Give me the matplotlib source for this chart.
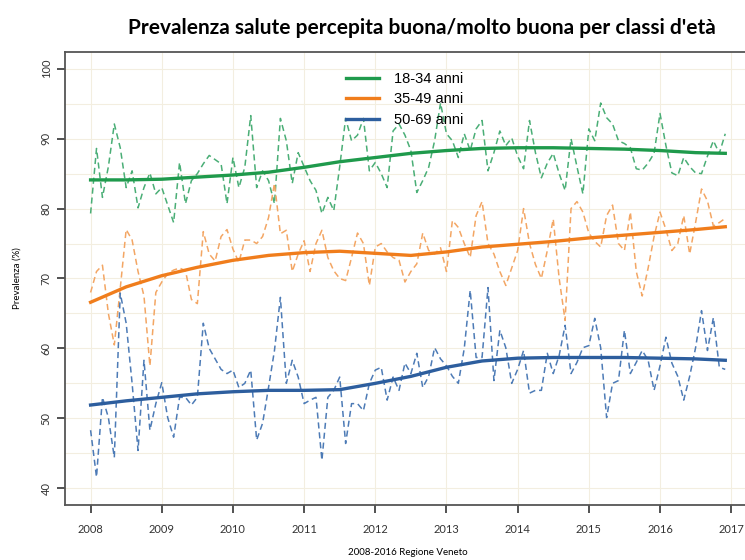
import numpy as np
from matplotlib import pyplot as plt

# valori mensili 2008-2016 (stimati dal grafico)
eta_18_34 = [79.3, 88.6, 81.6, 86.0, 92.1, 88.7, 83.0, 85.4, 80.1, 83.0, 85.1, 82.1,
             83.0, 80.5, 78.0, 86.6, 80.7, 84.0, 85.0, 86.4, 87.6, 87.0, 86.4, 80.7,
             87.3, 83.0, 85.9, 93.3, 83.0, 85.4, 84.0, 80.7, 92.9, 89.7, 83.6, 88.0,
             86.0, 84.0, 82.6, 79.3, 81.6, 79.7, 86.0, 92.9, 89.7, 90.5, 92.9, 85.4,
             86.6, 85.0, 83.0, 91.1, 92.1, 90.5, 88.3, 82.3, 84.0, 85.9, 89.7, 95.1,
             90.7, 89.7, 87.3, 90.7, 88.3, 91.4, 92.6, 85.4, 88.0, 91.1, 89.0, 90.1,
             87.5, 85.7, 92.6, 88.0, 84.4, 86.5, 87.9, 85.0, 82.6, 90.0, 86.0, 82.1,
             91.4, 89.7, 95.1, 93.0, 92.1, 89.7, 89.3, 88.7, 85.7, 85.5, 86.5, 87.9,
             93.6, 89.0, 85.1, 84.7, 87.3, 86.0, 85.1, 85.0, 87.5, 89.7, 87.9, 90.7]

eta_35_49 = [68.0, 71.0, 71.9, 65.0, 60.5, 68.6, 77.0, 75.5, 71.0, 67.5, 57.5, 68.0,
             69.5, 70.7, 71.2, 71.5, 71.1, 67.0, 66.4, 76.7, 73.5, 72.5, 76.0, 77.0,
             74.2, 72.3, 75.5, 75.5, 75.0, 76.0, 78.7, 83.6, 76.4, 76.9, 71.0, 73.5,
             75.4, 71.0, 75.0, 76.9, 73.0, 71.1, 70.0, 69.7, 73.0, 76.5, 75.0, 69.0,
             74.5, 75.0, 73.8, 73.0, 72.6, 69.5, 71.0, 72.1, 76.5, 74.0, 73.5, 74.4,
             71.0, 78.3, 77.3, 75.0, 73.0, 79.0, 81.0, 75.0, 73.5, 71.0, 69.0, 71.5,
             74.0, 80.0, 75.0, 72.0, 70.0, 74.0, 78.5, 70.0, 64.0, 80.0, 81.0, 79.5,
             76.5, 75.3, 74.5, 79.0, 80.5, 75.0, 74.0, 79.5, 71.0, 67.5, 71.5, 76.0,
             79.5, 77.0, 74.0, 75.0, 79.0, 73.5, 78.0, 82.8, 81.1, 77.5, 78.0, 78.6]

eta_50_69 = [48.3, 41.6, 53.0, 50.1, 44.4, 67.9, 63.6, 55.0, 45.4, 58.3, 48.3, 52.1,
             55.1, 50.1, 47.3, 53.0, 53.0, 51.9, 53.0, 63.6, 60.0, 58.5, 57.0, 56.4,
             56.9, 54.4, 55.0, 56.9, 46.9, 49.3, 54.4, 59.7, 67.3, 55.0, 58.3, 55.9,
             52.1, 52.6, 53.0, 44.0, 53.0, 54.0, 55.9, 46.4, 52.1, 52.1, 51.1, 55.0,
             56.9, 57.3, 52.6, 55.9, 54.0, 57.9, 56.4, 59.3, 54.4, 56.0, 60.1, 58.5,
             57.5, 56.0, 55.0, 60.0, 68.3, 58.7, 58.7, 68.7, 55.4, 62.6, 60.1, 55.0,
             57.0, 59.7, 53.6, 54.0, 54.0, 59.3, 56.4, 59.0, 63.3, 56.4, 58.0, 60.1,
             60.4, 64.3, 60.1, 50.1, 55.0, 55.4, 62.6, 56.4, 58.0, 59.7, 58.3, 54.0,
             57.5, 61.6, 57.9, 56.0, 52.6, 56.0, 60.1, 65.4, 59.7, 64.4, 57.3, 57.0]

# curve di tendenza (ogni 6 mesi)
anni_trend = [2008, 2008.5, 2009, 2009.5, 2010, 2010.5, 2011, 2011.5, 2012, 2012.5,
              2013, 2013.5, 2014, 2014.5, 2015, 2015.5, 2016, 2016.5, 2016.917]
trend_18_34 = [84.1, 84.1, 84.2, 84.5, 84.8, 85.2, 85.9, 86.7, 87.3, 87.9,
               88.3, 88.6, 88.7, 88.7, 88.6, 88.5, 88.3, 88.0, 87.9]
trend_35_49 = [66.6, 68.8, 70.4, 71.6, 72.6, 73.3, 73.7, 73.9, 73.6, 73.3,
               73.8, 74.5, 74.9, 75.3, 75.8, 76.2, 76.6, 77.0, 77.4]
trend_50_69 = [51.9, 52.5, 53.0, 53.5, 53.8, 54.0, 54.0, 54.1, 55.0, 56.0,
               57.3, 58.2, 58.6, 58.7, 58.7, 58.7, 58.6, 58.5, 58.3]

etichette = ["18-34 anni", "35-49 anni", "50-69 anni"]
colori = ["#1f9a4c", "#f07d1c", "#2d5e9e"]
colori_tratt = ["#4aae76", "#f3a664", "#4d7bb6"]

mesi = 2008 + np.arange(len(eta_18_34)) / 12

fig = plt.figure(figsize=(7.45, 5.6), dpi=100)
ax = fig.add_axes([0.0872, 0.0982, 0.921, 0.809])

serie = [eta_18_34, eta_35_49, eta_50_69]
trend = [trend_18_34, trend_35_49, trend_50_69]
for i in range(3):
    ax.plot(mesi, serie[i], color=colori_tratt[i], lw=1.1, dashes=(4, 2.5))
for i in range(3):
    ax.plot(anni_trend, trend[i], color=colori[i], lw=2.4, label=etichette[i])

ax.set_xlim(2007.64, 2017.28)
ax.set_ylim(37.6, 102.4)
ax.set_xticks(range(2008, 2018))
ax.set_yticks(range(40, 101, 10))
ax.set_yticks(range(40, 101, 5), minor=True)
ax.tick_params(axis="y", which="minor", length=0)
ax.grid(True, which="both", color="#f3eee0", lw=0.8)
ax.set_axisbelow(True)

for s in ax.spines.values():
    s.set_color("#555555")
    s.set_linewidth(1.3)

ax.tick_params(axis="both", which="major", length=6, width=1.2, color="#333333",
               labelsize=8, labelcolor="#333333")
ax.tick_params(axis="x", pad=8)
for t in ax.get_xticklabels():
    t.set_fontfamily("Lato")
for t in ax.get_yticklabels():
    t.set_fontfamily("Lato")
    t.set_rotation(90)
    t.set_va("center")

ax.set_ylabel("Prevalenza (%)", fontsize=7, fontfamily="Lato", labelpad=14)
ax.set_xlabel("2008-2016 Regione Veneto", fontsize=7, fontfamily="Lato", labelpad=9)

fig.text(0.566, 0.95, "Prevalenza salute percepita buona/molto buona per classi d'età",
         ha="center", va="center", fontsize=15, fontweight="bold", fontfamily="Lato")

ax.legend(loc="upper left", bbox_to_anchor=(0.39, 0.985), frameon=False,
          handlelength=2.3, handletextpad=1.0, labelspacing=0.45,
          prop={"family": "Liberation Sans", "size": 10.5})

fig.savefig("out.png", dpi=100)
